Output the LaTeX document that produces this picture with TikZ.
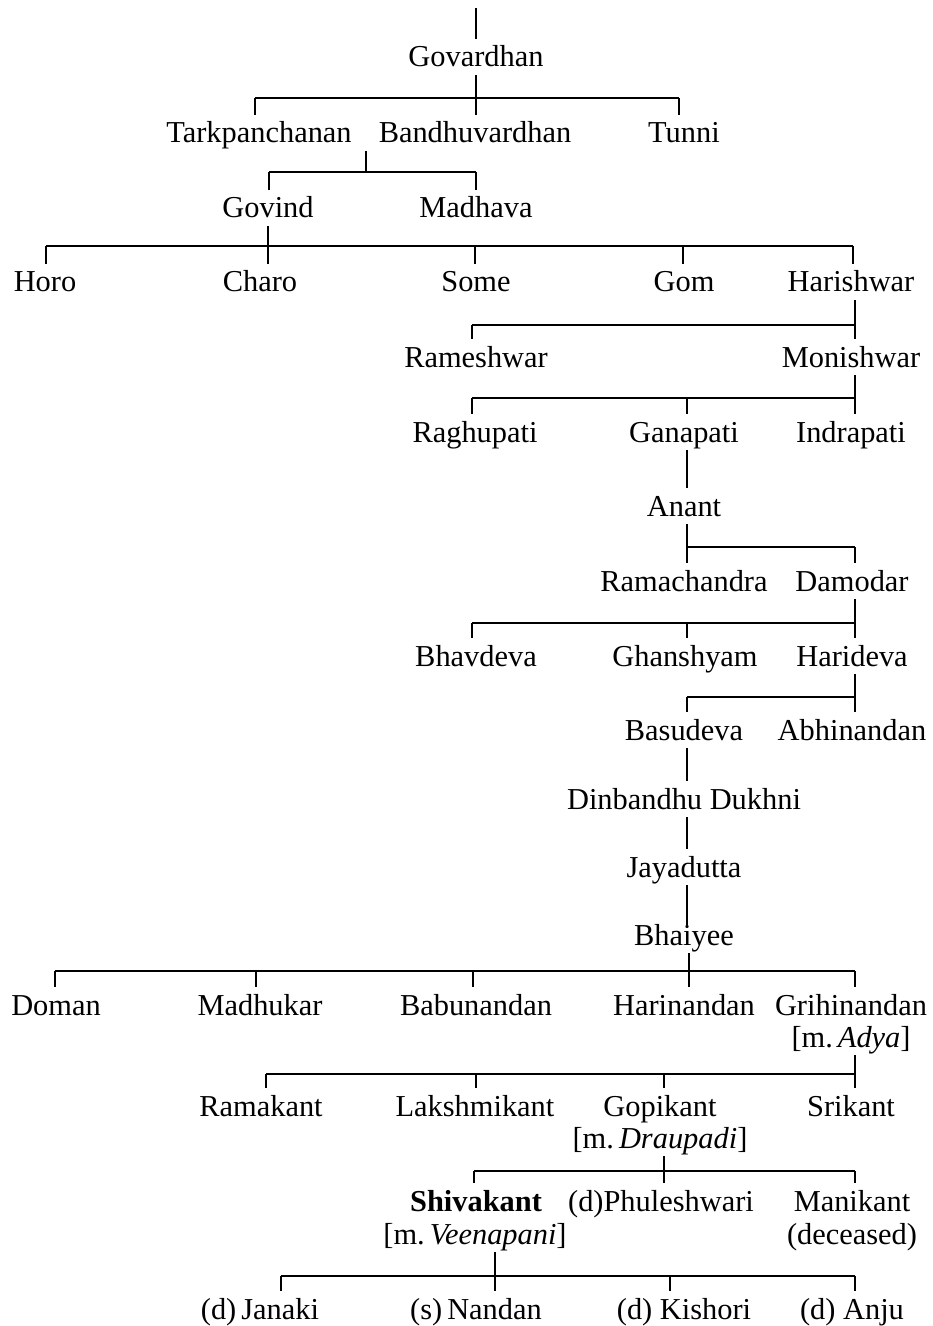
\documentclass[tikz,border=0pt]{standalone}
\usepackage{fontspec}
\setmainfont{Liberation Serif}
\begin{document}
\begin{tikzpicture}[x=0.5pt,y=-0.5pt,
  person/.style={inner sep=0pt,minimum height=18pt,text height=10pt,text depth=0pt,font=\fontsize{15.2}{18}\selectfont},
  link/.style={line width=0.8pt}]
\useasboundingbox (0,0) rectangle (932,1326);
% nodes
\node[person] (gov) at (476,57) {Govardhan};
\node[person] (tark) at (259,133) {Tarkpanchanan};
\node[person] (bandhu) at (475,133) {Bandhuvardhan};
\node[person] (tunni) at (684,133) {Tunni};
\node[person] (govind) at (268,208) {Govind};
\node[person] (madhava) at (476,208) {Madhava};
\node[person] (horo) at (45,282) {Horo};
\node[person] (charo) at (260,282) {Charo};
\node[person] (some) at (476,282) {Some};
\node[person] (gom) at (684,282) {Gom};
\node[person] (harish) at (851,282) {Harishwar};
\node[person] (ramesh) at (476,357) {Rameshwar};
\node[person] (monish) at (851,357) {Monishwar};
\node[person] (raghu) at (475,432) {Raghupati};
\node[person] (gana) at (684,432) {Ganapati};
\node[person] (indra) at (851,432) {Indrapati};
\node[person] (anant) at (684,506) {Anant};
\node[person] (ramach) at (684,581) {Ramachandra};
\node[person] (damodar) at (852,581) {Damodar};
\node[person] (bhav) at (476,656) {Bhavdeva};
\node[person] (ghan) at (685,656) {Ghanshyam};
\node[person] (hari) at (852,656) {Harideva};
\node[person] (basu) at (684,730) {Basudeva};
\node[person] (abhi) at (852,730) {Abhinandan};
\node[person] (dinb) at (684,799) {Dinbandhu Dukhni};
\node[person] (jaya) at (684,867) {Jayadutta};
\node[person] (bhai) at (684,935) {Bhaiyee};
\node[person] (doman) at (56,1005) {Doman};
\node[person] (madhu) at (260,1005) {Madhukar};
\node[person] (babu) at (476,1005) {Babunandan};
\node[person] (harin) at (684,1005) {Harinandan};
\node[person] (grihi) at (851,1005) {Grihinandan};
\node[person] (adya) at (851,1037) {[m.\,\textit{Adya}]};
\node[person] (rama) at (261,1106) {Ramakant};
\node[person] (laksh) at (475,1106) {Lakshmikant};
\node[person] (gopi) at (660,1106) {Gopikant};
\node[person] (srik) at (851,1106) {Srikant};
\node[person] (draup) at (660,1138) {[m.\,\textit{Draupadi}]};
\node[person] (shiva) at (476,1201) {\textbf{Shivakant}};
\node[person] (phul) at (661,1201) {(d)Phuleshwari};
\node[person] (mani) at (852,1201) {Manikant};
\node[person] (veena) at (475,1234) {[m.\,\textit{Veenapani}]};
\node[person] (dec) at (852,1234) {(deceased)};
\node[person] (janaki) at (260,1309) {(d)\,Janaki};
\node[person] (nandan) at (476,1309) {(s)\,Nandan};
\node[person] (kishori) at (684,1309) {(d) Kishori};
\node[person] (anju) at (852,1309) {(d) Anju};
% top
\coordinate (top) at (476,8);
\draw[link] (top) -- (top |- gov.north);
% Govardhan
\coordinate (b1L) at (255,98); \coordinate (b1R) at (679,98);
\draw[link] (b1L) -- (b1R);
\draw[link] (gov.south) -- (gov.south |- bandhu.north);
\draw[link] (b1L) -- (b1L |- tark.north);
\draw[link] (b1R) -- (b1R |- tunni.north);
% Bandhuvardhan
\coordinate (b2s) at (366,172); \coordinate (b2L) at (269,172); \coordinate (b2R) at (476,172);
\draw[link] (b2s |- bandhu.south) -- (b2s);
\draw[link] (b2L) -- (b2R);
\draw[link] (b2L) -- (b2L |- govind.north);
\draw[link] (b2R) -- (b2R |- madhava.north);
% Govind
\coordinate (b3L) at (46,246); \coordinate (b3a) at (475,246); \coordinate (b3b) at (683,246); \coordinate (b3R) at (853,246);
\draw[link] (b3L) -- (b3R);
\draw[link] (govind.south) -- (govind.south |- charo.north);
\draw[link] (b3L) -- (b3L |- horo.north);
\draw[link] (b3a) -- (b3a |- some.north);
\draw[link] (b3b) -- (b3b |- gom.north);
\draw[link] (b3R) -- (b3R |- harish.north);
% Harishwar
\coordinate (b4L) at (472,325); \coordinate (b4R) at (855,325);
\draw[link] (b4L) -- (b4R);
\draw[link] (b4R |- harish.south) -- (b4R |- monish.north);
\draw[link] (b4L) -- (b4L |- ramesh.north);
% Monishwar
\coordinate (b5L) at (472,398); \coordinate (b5a) at (687,398); \coordinate (b5R) at (855,398);
\draw[link] (b5L) -- (b5R);
\draw[link] (b5R |- monish.south) -- (b5R |- indra.north);
\draw[link] (b5L) -- (b5L |- raghu.north);
\draw[link] (b5a) -- (b5a |- gana.north);
% Ganapati
\draw[link] (b5a |- gana.south) -- (b5a |- anant.north);
% Anant
\coordinate (b6L) at (687,547); \coordinate (b6R) at (855,547);
\draw[link] (b6L) -- (b6R);
\draw[link] (b6L |- anant.south) -- (b6L |- ramach.north);
\draw[link] (b6R) -- (b6R |- damodar.north);
% Damodar
\coordinate (b7L) at (472,623); \coordinate (b7a) at (687,623); \coordinate (b7R) at (855,623);
\draw[link] (b7L) -- (b7R);
\draw[link] (b7R |- damodar.south) -- (b7R |- hari.north);
\draw[link] (b7L) -- (b7L |- bhav.north);
\draw[link] (b7a) -- (b7a |- ghan.north);
% Harideva
\coordinate (b8L) at (687,697); \coordinate (b8R) at (855,697);
\draw[link] (b8L) -- (b8R);
\draw[link] (b8R |- hari.south) -- (b8R |- abhi.north);
\draw[link] (b8L) -- (b8L |- basu.north);
% chain
\draw[link] (b8L |- basu.south) -- (b8L |- dinb.north);
\draw[link] (b8L |- dinb.south) -- (b8L |- jaya.north);
\draw[link] (b8L |- jaya.south) -- ([yshift=-4pt]b8L |- bhai.north);
% Bhaiyee
\coordinate (b9L) at (55,971); \coordinate (b9a) at (256,971); \coordinate (b9b) at (473,971); \coordinate (b9c) at (689,971); \coordinate (b9R) at (855,971);
\draw[link] (b9L) -- (b9R);
\draw[link] (b9c |- bhai.south) -- (b9c |- harin.north);
\draw[link] (b9L) -- (b9L |- doman.north);
\draw[link] (b9a) -- (b9a |- madhu.north);
\draw[link] (b9b) -- (b9b |- babu.north);
\draw[link] (b9R) -- (b9R |- grihi.north);
% Grihinandan
\coordinate (b10L) at (266,1074); \coordinate (b10a) at (476,1074); \coordinate (b10b) at (664,1074); \coordinate (b10R) at (855,1074);
\draw[link] (b10L) -- (b10R);
\draw[link] (b10R |- adya.south) -- (b10R |- srik.north);
\draw[link] (b10L) -- (b10L |- rama.north);
\draw[link] (b10a) -- (b10a |- laksh.north);
\draw[link] (b10b) -- (b10b |- gopi.north);
% Gopikant
\coordinate (b11L) at (474,1171); \coordinate (b11a) at (664,1171); \coordinate (b11R) at (855,1171);
\draw[link] (b11L) -- (b11R);
\draw[link] (b11a |- draup.south) -- (b11a |- phul.north);
\draw[link] (b11L) -- (b11L |- shiva.north);
\draw[link] (b11R) -- (b11R |- mani.north);
% Shivakant
\coordinate (b12L) at (281,1276); \coordinate (b12a) at (495,1276); \coordinate (b12b) at (670,1276); \coordinate (b12R) at (855,1276);
\draw[link] (b12L) -- (b12R);
\draw[link] (b12a |- veena.south) -- (b12a |- nandan.north);
\draw[link] (b12L) -- (b12L |- janaki.north);
\draw[link] (b12b) -- (b12b |- kishori.north);
\draw[link] (b12R) -- (b12R |- anju.north);
\end{tikzpicture}
\end{document}
